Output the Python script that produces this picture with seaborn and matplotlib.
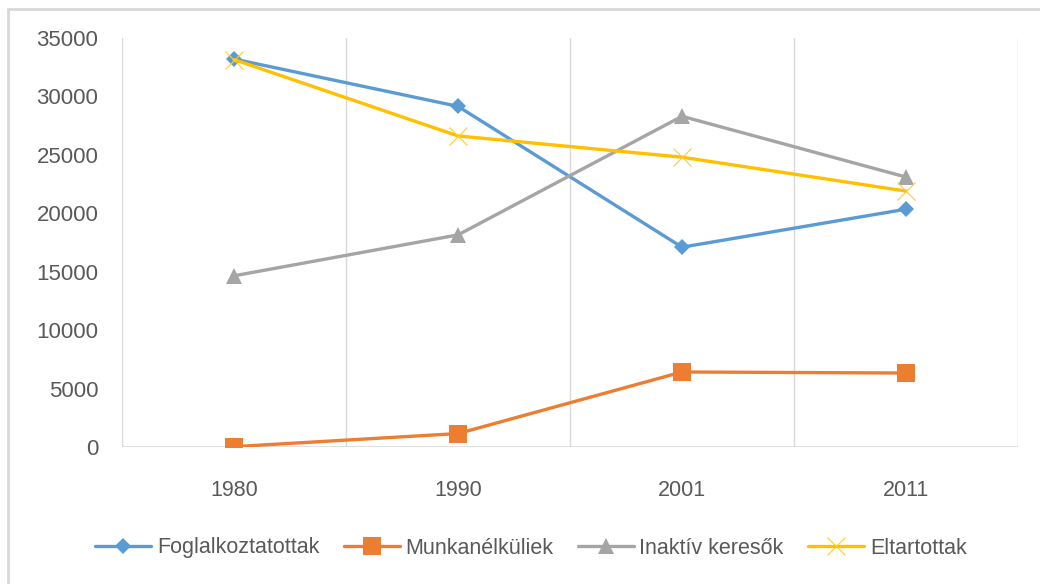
import matplotlib
matplotlib.use("Agg")
import matplotlib.pyplot as plt
import seaborn as sns
from matplotlib.lines import Line2D

years = ["1980", "1990", "2001", "2011"]
foglalkoztatottak = [33200, 29150, 17100, 20350]
munkanelkuliek = [30, 1150, 6420, 6330]
inaktiv_keresok = [14650, 18150, 28300, 23100]
eltartottak = [33150, 26620, 24800, 21900]

series = [
    ("Foglalkoztatottak", foglalkoztatottak, "#5B9BD5", "D", 8.5),
    ("Munkanélküliek", munkanelkuliek, "#ED7D31", "s", 12.5),
    ("Inaktív keresők", inaktiv_keresok, "#A5A5A5", "^", 12),
    ("Eltartottak", eltartottak, "#FFC000", "x", 13),
]

sns.set_style("white")
plt.rcParams["font.family"] = ["Liberation Sans", "DejaVu Sans"]

fig = plt.figure(figsize=(10.4, 5.84), dpi=100)
ax = fig.add_axes([122 / 1040, 1 - 447 / 584, (1018 - 122) / 1040, (447 - 38) / 584])

x_pos = list(range(len(years)))
for name, vals, color, marker, ms in series:
    if marker == "x":
        sns.lineplot(x=x_pos, y=vals, ax=ax, color=color, linewidth=2.4, label=name,
                     marker=marker, markersize=ms, markeredgewidth=0.8,
                     markeredgecolor="#FFCB33")
    else:
        sns.lineplot(x=x_pos, y=vals, ax=ax, color=color, linewidth=2.4, label=name,
                     marker=marker, markersize=ms, markeredgewidth=0,
                     markerfacecolor=color)

ax.set_xlim(-0.5, len(years) - 0.5)
ax.set_ylim(0, 35000)
ax.set_yticks(range(0, 35001, 5000))
ax.set_xticks(x_pos)
ax.set_xticklabels(years)

# vertical gridlines between categories
for b in [i - 0.5 for i in range(len(years) + 1)]:
    ax.axvline(b, color="#d9d9d9", lw=1, zorder=0)
ax.axhline(0, color="#d9d9d9", lw=1.2, zorder=0.5)

for s in ax.spines.values():
    s.set_visible(False)
ax.tick_params(axis="both", length=0, colors="#595959")
ax.tick_params(axis="y", pad=17, labelsize=16)
ax.tick_params(axis="x", pad=24, labelsize=15.5)
ax.set_xlabel("")
ax.set_ylabel("")

handles, labels = ax.get_legend_handles_labels()
ax.get_legend().remove()
leg = fig.legend(handles, labels, loc="center", bbox_to_anchor=(531 / 1040, 1 - 548 / 584),
                 ncol=4, frameon=False, fontsize=15.5, handlelength=2.6,
                 handletextpad=0.25, columnspacing=1.15)
for t in leg.get_texts():
    t.set_color("#595959")

# chart border (top and left visible in the crop)
fig.add_artist(Line2D([8 / 1040, 1], [1 - 9 / 584, 1 - 9 / 584], color="#d9d9d9", lw=2))
fig.add_artist(Line2D([8 / 1040, 8 / 1040], [0, 1 - 9 / 584], color="#d9d9d9", lw=2))

fig.savefig("out.png", dpi=100)
